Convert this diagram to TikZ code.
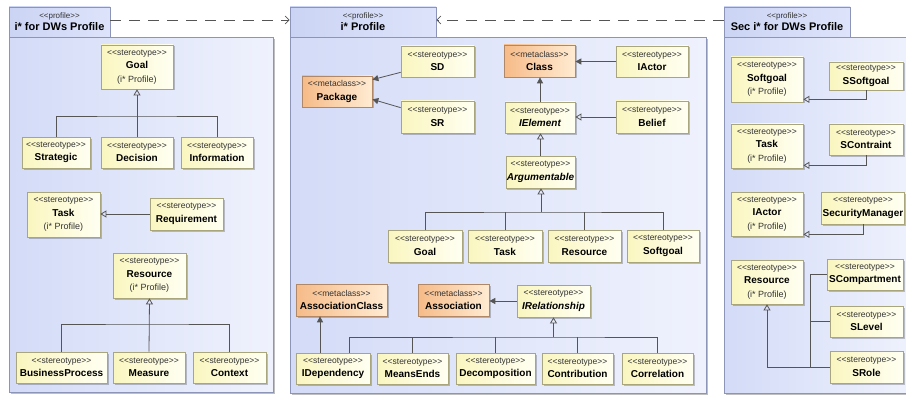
\documentclass[tikz,border=0pt]{standalone}
\usepackage{fontspec}
\setmainfont{Liberation Sans}
\usetikzlibrary{arrows.meta, shadows}
\usepackage{xcolor}
\definecolor{stA}{HTML}{FAF6C0}
\definecolor{stB}{HTML}{FFFFF2}
\definecolor{stline}{HTML}{A9A57C}
\definecolor{mcA}{HTML}{F6BB88}
\definecolor{mcB}{HTML}{FFEBD2}
\definecolor{mcline}{HTML}{B08868}
\definecolor{pkgA}{HTML}{D3DBF7}
\definecolor{pkgB}{HTML}{EFF2FD}
\definecolor{tabA}{HTML}{CBD4F4}
\definecolor{tabB}{HTML}{DDE3FA}
\definecolor{pkgline}{HTML}{8C94B8}
\definecolor{lnc}{HTML}{555555}
\definecolor{txtgray}{HTML}{333333}

\newcommand{\lgl}{<\kern0pt<}
\newcommand{\rgl}{>\kern0pt>}
\newcommand{\stereo}{{\color{txtgray}\fontsize{8.5}{13.5}\selectfont\lgl stereotype\rgl}}
\newcommand{\metacl}{{\color{txtgray}\fontsize{8.5}{13.5}\selectfont\lgl metaclass\rgl}}
\newcommand{\bname}[1]{{\fontsize{10}{13.5}\selectfont\bfseries #1}}
\newcommand{\biname}[1]{{\fontsize{10}{13.5}\selectfont\bfseries\itshape #1}}
\newcommand{\ipro}{{\color{txtgray}(i* Profile)}}
\newcommand{\pkgtitle}[1]{{\color{txtgray}\fontsize{8}{14}\selectfont\lgl profile\rgl}\\{\fontsize{11}{14}\selectfont\bfseries #1}}

\begin{document}
\begin{tikzpicture}[
    x=1pt, y=-1pt,
    pkgbody/.style={draw=pkgline, line width=0.8pt, left color=pkgA, right color=pkgB, anchor=north west, inner sep=0pt,
        drop shadow={shadow xshift=1.5pt, shadow yshift=-1.5pt, fill=black, opacity=0.25}},
    pkgtab/.style={draw=pkgline, line width=0.8pt, left color=tabA, right color=tabB, align=center, inner sep=0pt, minimum height=30pt},
    stbox/.style={draw=stline, line width=0.7pt, left color=stA, right color=stB, align=center, inner sep=1pt,
        font=\fontsize{9}{13.5}\selectfont,
        drop shadow={shadow xshift=1.5pt, shadow yshift=-1.5pt, fill=black, opacity=0.22}},
    mcbox/.style={stbox, draw=mcline, left color=mcA, right color=mcB},
    conn/.style={draw=lnc, line width=0.8pt},
    gen/.style={conn, -{Triangle[open, length=6pt, width=7pt]}},
    assoc/.style={conn, -{Triangle[length=6pt, width=6pt]}},
    dep/.style={draw=lnc, line width=0.7pt, dash pattern=on 11pt off 8pt, -{Straight Barb[length=4pt, width=8pt]}},
]
\clip (0,0) rectangle (906,396);

% packages
\node[pkgbody, minimum width=264pt, minimum height=355pt] (bodyL) at (9,37) {};
\node[pkgtab, minimum width=101pt] (tabL) at (59.5,22) {\pkgtitle{i* for DWs Profile}};
\node[pkgbody, minimum width=416pt, minimum height=356pt] (bodyM) at (290,37) {};
\node[pkgtab, minimum width=146pt] (tabM) at (363,22) {\pkgtitle{i* Profile}};
\node[pkgbody, minimum width=190pt, minimum height=356pt] (bodyR) at (724,37) {};
\node[pkgtab, minimum width=126pt] (tabR) at (787,22) {\pkgtitle{Sec i* for DWs Profile}};

\draw[dep] ([yshift=2pt]tabL.east) -- ([yshift=2pt]tabM.west);
\draw[dep] ([yshift=2pt]tabR.west) -- ([yshift=2pt]tabM.east);

% i* for DWs Profile
\node[stbox, minimum width=72pt, minimum height=44pt] (goalL) at (137,67) {\stereo\\\bname{Goal}\\\ipro};
\node[stbox, minimum width=68pt, minimum height=31pt] (strat) at (56,152.5) {\stereo\\\bname{Strategic}};
\node[stbox, minimum width=72pt, minimum height=31pt] (decis) at (137,152.5) {\stereo\\\bname{Decision}};
\node[stbox, minimum width=72pt, minimum height=31pt] (info) at (217,152.5) {\stereo\\\bname{Information}};
\node[stbox, minimum width=73pt, minimum height=45pt] (taskL) at (63.5,214.5) {\stereo\\\bname{Task}\\\ipro};
\node[stbox, minimum width=73pt, minimum height=32pt] (req) at (186.5,214) {\stereo\\\bname{Requirement}};
\node[stbox, minimum width=73pt, minimum height=45pt] (resL) at (149.5,275.5) {\stereo\\\bname{Resource}\\\ipro};
\node[stbox, minimum width=91pt, minimum height=31pt] (bproc) at (61.5,367.5) {\stereo\\\bname{BusinessProcess}};
\node[stbox, minimum width=72pt, minimum height=31pt] (meas) at (149,367.5) {\stereo\\\bname{Measure}};
\node[stbox, minimum width=73pt, minimum height=31pt] (ctx) at (229.5,367.5) {\stereo\\\bname{Context}};

\coordinate (gjL) at (137,116);
\coordinate (rjL) at (149,324);
\draw[gen] (decis.north) -- (goalL.south);
\draw[conn] (strat.north) |- (gjL) -| (info.north);
\draw[gen] (req.west) -- (req.west -| taskL.east);
\draw[gen] (meas.north) -- (resL.south);
\draw[conn] (bproc.north) |- (rjL) -| (ctx.north);

% i* Profile
\node[stbox, minimum width=73pt, minimum height=31pt] (sd) at (437.5,61.5) {\stereo\\\bname{SD}};
\node[stbox, minimum width=73pt, minimum height=32pt] (sr) at (437.5,117) {\stereo\\\bname{SR}};
\node[mcbox, minimum width=70pt, minimum height=31pt] (pkg) at (337,91.5) {\metacl\\\bname{Package}};
\node[mcbox, minimum width=71pt, minimum height=32pt] (cls) at (539.5,61) {\metacl\\\bname{Class}};
\node[stbox, minimum width=72pt, minimum height=31pt] (iact) at (652,61.5) {\stereo\\\bname{IActor}};
\node[stbox, minimum width=70pt, minimum height=31pt] (ielem) at (540,117.5) {\stereo\\\biname{IElement}};
\node[stbox, minimum width=72pt, minimum height=32pt] (belief) at (652,117) {\stereo\\\bname{Belief}};
\node[stbox, minimum width=69pt, minimum height=32pt] (arg) at (540.5,172) {\stereo\\\biname{Argumentable}};
\node[stbox, minimum width=74pt, minimum height=32pt] (goalM) at (425,246) {\stereo\\\bname{Goal}};
\node[stbox, minimum width=74pt, minimum height=32pt] (taskM) at (505,246) {\stereo\\\bname{Task}};
\node[stbox, minimum width=73pt, minimum height=32pt] (resM) at (584.5,246) {\stereo\\\bname{Resource}};
\node[stbox, minimum width=72pt, minimum height=32pt] (softM) at (663,246) {\stereo\\\bname{Softgoal}};
\node[mcbox, minimum width=91pt, minimum height=32pt] (aclass) at (341.5,300) {\metacl\\\bname{AssociationClass}};
\node[mcbox, minimum width=71pt, minimum height=32pt] (assocM) at (453.5,300) {\metacl\\\bname{Association}};
\node[stbox, minimum width=73pt, minimum height=32pt] (irel) at (553.5,301) {\stereo\\\biname{IRelationship}};
\node[stbox, minimum width=74pt, minimum height=31pt] (idep) at (333,368.5) {\stereo\\\bname{IDependency}};
\node[stbox, minimum width=71pt, minimum height=31pt] (mends) at (412.5,368.5) {\stereo\\\bname{MeansEnds}};
\node[stbox, minimum width=79pt, minimum height=31pt] (decomp) at (495.5,368.5) {\stereo\\\bname{Decomposition}};
\node[stbox, minimum width=71pt, minimum height=31pt] (contr) at (577.5,368.5) {\stereo\\\bname{Contribution}};
\node[stbox, minimum width=71pt, minimum height=31pt] (correl) at (657.5,368.5) {\stereo\\\bname{Correlation}};

\draw[assoc] ([yshift=5pt]sd.south west) -- ([yshift=-4pt]pkg.north east);
\draw[assoc] ([yshift=-7pt]sr.north west) -- ([yshift=8pt]pkg.south east);
\draw[assoc] (iact.west) -- (iact.west -| cls.east);
\draw[assoc] (ielem.north) -- (ielem.north |- cls.south);
\draw[gen] (belief.west) -- (belief.west -| ielem.east);
\draw[gen] (arg.north) -- (arg.north |- ielem.south);

\coordinate (ajn) at (541,212);
\draw[gen] (ajn) -- (ajn |- arg.south);
\draw[conn] (goalM.north) |- (ajn) -| (softM.north);
\draw[conn] (taskM.north) -- (taskM.north |- ajn);
\draw[conn] (resM.north) -- (resM.north |- ajn);

\draw[assoc] (irel.west) -- (irel.west -| assocM.east);
\draw[assoc] ([xshift=-13pt]idep.north) -- ([xshift=-13pt]idep.north |- aclass.south);
\coordinate (rjn) at (553.5,337);
\draw[gen] (rjn) -- (irel.south);
\draw[conn] ([xshift=16pt]idep.north) |- (rjn) -| (correl.north);
\draw[conn] (mends.north) -- (mends.north |- rjn);
\draw[conn] (decomp.north) -- (decomp.north |- rjn);
\draw[conn] (contr.north) -- (contr.north |- rjn);

% Sec i* for DWs Profile
\node[stbox, minimum width=72pt, minimum height=45pt] (softR) at (767,79.5) {\stereo\\\bname{Softgoal}\\\ipro};
\node[stbox, minimum width=74pt, minimum height=28pt] (ssoft) at (866,76) {\stereo\\\bname{SSoftgoal}};
\node[stbox, minimum width=72pt, minimum height=44pt] (taskR) at (767,146) {\stereo\\\bname{Task}\\\ipro};
\node[stbox, minimum width=74pt, minimum height=31pt] (scon) at (866,139.5) {\stereo\\\bname{SContraint}};
\node[stbox, minimum width=72pt, minimum height=44pt] (iactR) at (767,214) {\stereo\\\bname{IActor}\\\ipro};
\node[stbox, minimum width=82pt, minimum height=32pt] (secm) at (863,208) {\stereo\\\bname{SecurityManager}};
\node[stbox, minimum width=72pt, minimum height=44pt] (resR) at (767,282) {\stereo\\\bname{Resource}\\\ipro};
\node[stbox, minimum width=76pt, minimum height=31pt] (scomp) at (865,274.5) {\stereo\\\bname{SCompartment}};
\node[stbox, minimum width=73pt, minimum height=31pt] (slev) at (866.5,321.5) {\stereo\\\bname{SLevel}};
\node[stbox, minimum width=73pt, minimum height=32pt] (srole) at (866.5,367) {\stereo\\\bname{SRole}};

\draw[gen] (ssoft.south) |- ([yshift=3pt]softR.south east);
\draw[gen] (scon.south) |- ([yshift=3pt]taskR.south east);
\draw[gen] (secm.south) |- ([yshift=2pt]iactR.south east);
\coordinate (sjn) at (810,367);
\draw[gen] (srole.west) -| (resR.south);
\draw[conn] (scomp.west) -| (sjn);
\draw[conn] (slev.west) -- (slev.west -| sjn);

\end{tikzpicture}
\end{document}
